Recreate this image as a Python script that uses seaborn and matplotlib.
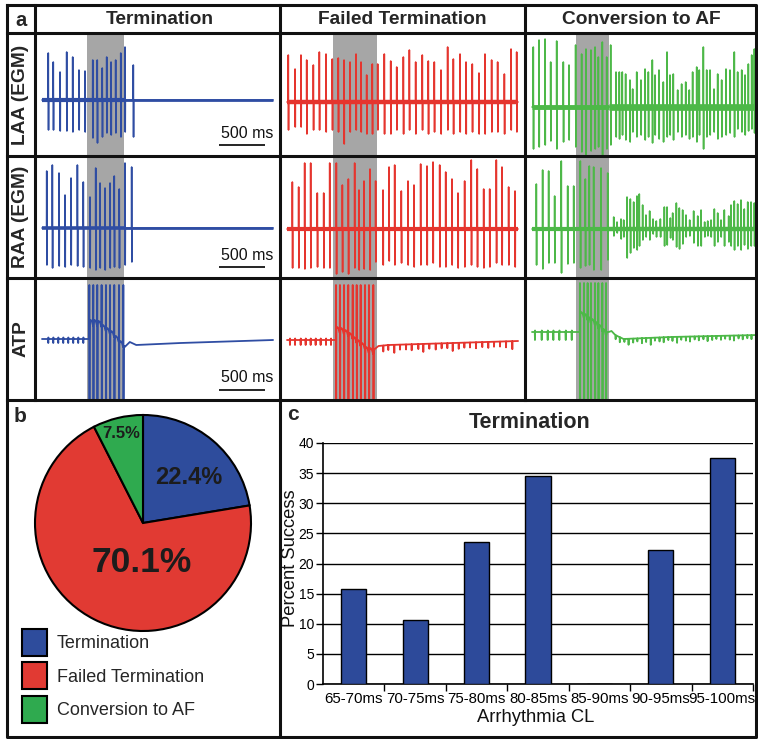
import numpy as np
import matplotlib
matplotlib.use("Agg")
import matplotlib.pyplot as plt
from matplotlib.patches import Patch
import seaborn as sns
import pandas as pd

# ---------------------------------------------------------------- data
col_titles = ["Termination", "Failed Termination", "Conversion to AF"]
row_titles = ["LAA (EGM)", "RAA (EGM)", "ATP"]

# stimulation (ATP) windows per column, ms
stim_start = [487, 498, 476]
stim_end = [887, 974, 833]

# LAA / RAA electrograms: spike times (ms), up / down deflections (a.u.)
laa_term_t = [68, 122, 195, 267, 332, 400, 465, 549, 598, 652, 700, 747, 797, 852, 898, 988]
laa_term_up = [47, 38, 28, 48, 43, 30, 29, 40, 40, 32, 43, 38, 40, 47, 53, 35]
laa_term_dn = [30, 30, 31, 31, 32, 30, 32, 38, 43, 37, 33, 35, 33, 37, 32, 37]

raa_term_t = [51, 112, 184, 249, 314, 383, 447, 519, 581, 628, 682, 736, 782, 836, 898, 970]
raa_term_up = [57, 63, 55, 33, 50, 63, 46, 31, 60, 45, 40, 45, 52, 39, 65, 61]
raa_term_dn = [37, 40, 38, 39, 37, 38, 39, 40, 42, 40, 42, 40, 39, 40, 37, 34]

laa_fail_t = [14, 87, 151, 213, 285, 350, 422, 490, 555, 617, 682, 747, 801, 862, 923, 981,
              1053, 1122, 1187, 1259, 1324, 1392, 1464, 1529, 1594, 1666, 1738, 1800, 1872,
              1937, 2005, 2077, 2142, 2214, 2279, 2352, 2424, 2485]
laa_fail_up = [47, 33, 47, 42, 37, 50, 48, 43, 44, 42, 40, 48, 40, 27, 38, 38, 48, 41, 35, 45,
               52, 40, 47, 41, 40, 32, 55, 43, 48, 40, 38, 29, 48, 42, 40, 28, 53, 50]
laa_fail_dn = [28, 25, 25, 32, 28, 28, 30, 28, 30, 42, 30, 28, 30, 32, 32, 28, 32, 32, 28, 32,
               28, 32, 28, 32, 30, 32, 28, 32, 30, 32, 30, 32, 32, 30, 30, 32, 28, 30]

raa_fail_t = [58, 126, 191, 256, 328, 397, 462, 534, 599, 664, 732, 779, 833, 898, 959, 1039,
              1104, 1165, 1237, 1309, 1374, 1446, 1515, 1580, 1652, 1717, 1785, 1850, 1922,
              1994, 2059, 2128, 2193, 2265, 2326, 2398, 2467]
raa_fail_up = [47, 42, 66, 66, 36, 36, 66, 66, 44, 50, 66, 39, 48, 60, 48, 39, 62, 64, 38, 48,
               44, 65, 63, 67, 64, 57, 50, 36, 48, 69, 60, 40, 40, 69, 62, 42, 38]
raa_fail_dn = [39, 39, 40, 39, 38, 39, 39, 45, 43, 45, 39, 41, 40, 41, 33, 36, 32, 36, 34, 36,
               38, 36, 36, 34, 38, 38, 36, 39, 38, 36, 38, 39, 38, 34, 36, 36, 38]

laa_af_t = [14, 76, 141, 202, 267, 339, 400, 472, 537, 584, 638, 682, 718, 761, 808, 851,
            909, 945, 977, 1013, 1060, 1089, 1133, 1179, 1223, 1259, 1302, 1331, 1374, 1421,
            1461, 1493, 1529, 1576, 1619, 1663, 1702, 1738, 1782, 1810, 1854, 1890, 1926,
            1969, 2009, 2052, 2099, 2142, 2189, 2225, 2269, 2305, 2341, 2377, 2406, 2442]
laa_af_up = [60, 67, 68, 45, 66, 45, 42, 62, 53, 58, 57, 60, 50, 65, 50, 62,
             35, 35, 35, 33, 27, 18, 35, 27, 38, 35, 47, 32, 37, 25, 55, 32, 33, 17, 23, 25,
             17, 35, 40, 37, 60, 37, 37, 18, 33, 27, 38, 37, 55, 35, 37, 32, 43, 52, 58, 40]
laa_af_dn = [42, 40, 38, 34, 42, 35, 33, 40, 45, 48, 44, 42, 40, 48, 42, 38,
             30, 32, 28, 33, 35, 25, 30, 28, 33, 30, 36, 28, 32, 35, 30, 28, 33, 25, 30, 28,
             32, 30, 35, 28, 42, 30, 28, 25, 32, 30, 28, 26, 30, 22, 25, 28, 24, 22, 26, 25]

raa_af_t = [47, 115, 180, 245, 317, 386, 451, 523, 577, 620, 667, 747, 819,
            884, 920, 963, 992, 1028, 1064, 1100, 1136, 1161, 1197, 1233, 1273, 1309, 1345,
            1389, 1432, 1461, 1497, 1522, 1562, 1594, 1630, 1666, 1706, 1749, 1793, 1829,
            1868, 1901, 1937, 1973, 2009, 2045, 2081, 2128, 2153, 2189, 2225, 2261, 2297,
            2334, 2370, 2406, 2442]
raa_af_up = [45, 59, 58, 33, 68, 43, 43, 68, 50, 63, 62, 61, 56,
             12, 7, 10, 9, 32, 30, 27, 33, 35, 24, 14, 18, 10, 8, 10, 22, 22, 11, 16, 26,
             21, 19, 14, 9, 18, 13, 19, 7, 8, 9, 20, 16, 9, 19, 13, 24, 28, 25, 29, 20,
             27, 27, 26, 24]
raa_af_dn = [36, 40, 34, 34, 44, 35, 34, 39, 37, 36, 41, 41, 31,
             7, 4, 10, 8, 29, 24, 19, 21, 17, 11, 8, 11, 5, 8, 8, 17, 16, 9, 11, 18,
             20, 15, 8, 7, 14, 17, 17, 8, 7, 8, 17, 13, 8, 17, 13, 17, 21, 17, 21, 16,
             20, 17, 17, 20]

# ATP channel: pre-stim sensed ticks, pacing pulses, hump levels, post-stim course
atp_term_pre = [68, 122, 176, 230, 284, 338, 392, 447]
atp_term_pulse = [512, 555, 598, 645, 692, 736, 782, 833, 880]
atp_term_hump = [19, 19, 18, 14, 11, 8, 3, -2, -7]
atp_term_post_t = [895, 950, 1020, 1500, 2500]
atp_term_post_v = [-8, -3, -6, -4, -1]
atp_term_post_ticks = []
atp_term_post_depth = []

atp_fail_pre = [32, 87, 148, 202, 256, 310, 364, 422, 476]
atp_fail_pulse = [530, 573, 617, 663, 711, 754, 797, 844, 887, 934]
atp_fail_hump = [13, 12, 10, 7, 3, 0, -3, -7, -8, -10]
atp_fail_post_t = [950, 990, 1100, 2500]
atp_fail_post_v = [-9, -6, -5, -1]
atp_fail_post_ticks = [1042, 1096, 1161, 1223, 1288, 1349, 1421, 1475, 1540, 1609, 1673, 1735,
                       1793, 1858, 1919, 1980, 2045, 2113, 2178, 2240, 2305, 2370, 2438]
atp_fail_post_depth = [6, 5, 8, 5, 5, 6, 5, 8, 5, 6, 5, 5, 8, 6, 5, 5, 6, 5, 6, 5, 5, 6, 8]

atp_af_pre = [32, 105, 170, 231, 296, 365, 430]
atp_af_pulse = [519, 563, 602, 638, 682, 718, 761, 801]
atp_af_hump = [20, 18, 15, 13, 10, 7, 3, 0]
atp_af_post_t = [830, 860, 900, 990, 1500, 2445]
atp_af_post_v = [0, 1, -3, -7, -5, -3]
atp_af_post_ticks = [905, 950, 1000, 1045, 1095, 1140, 1190, 1235, 1285, 1330, 1380, 1425,
                     1475, 1520, 1570, 1615, 1665, 1710, 1760, 1805, 1855, 1900, 1950, 1995,
                     2045, 2090, 2140, 2185, 2235, 2280, 2330, 2375, 2425]
atp_af_post_depth = [4, 5, 3, 6, 4, 3, 5, 4, 7, 3, 4, 5, 3, 4, 6, 3, 4, 5, 3, 4, 3, 5, 4, 3,
                     4, 3, 4, 5, 3, 4, 3, 4, 3]

# panel b
outcome_labels = ["Termination", "Failed Termination", "Conversion to AF"]
outcome_pct = [22.4, 70.1, 7.5]

# panel c
cl_bins = ["65-70ms", "70-75ms", "75-80ms", "80-85ms", "85-90ms", "90-95ms", "95-100ms"]
success_pct = [15.8, 10.6, 23.5, 34.5, 0.0, 22.2, 37.5]

# ---------------------------------------------------------------- style
sns.set_theme(style="white")
plt.rcParams["font.family"] = ["Liberation Sans", "DejaVu Sans"]

TRACE_COLORS = ["#2F4DA3", "#E5352E", "#4DB848"]
PIE_COLORS = ["#2E4C9C", "#E13A33", "#2FAA4F"]
BAR_COLOR = "#2D4A9A"
GRAY = "#A6A6A6"

W, H = 758, 739
fig = plt.figure(figsize=(W / 100, H / 100), dpi=100)


def px_axes(x0, y0, x1, y1, **kw):
    return fig.add_axes([x0 / W, 1 - y1 / H, (x1 - x0) / W, (y1 - y0) / H], **kw)


COLS = [(35, 280, 42), (280, 525, 287), (525, 758, 532)]
ROWS = [(33, 156), (156, 278), (278, 400)]
BASE = [[100, 102, 107], [228, 229, 229], [339, 340, 332]]
MPP = 10.82
T_END = [2500, 2500, 2445]


def trace_ax(r, c):
    x0, x1, xs = COLS[c]
    y0, y1 = ROWS[r]
    b = BASE[r][c]
    ax = px_axes(x0, y0, x1, y1)
    ax.set_xlim((x0 - xs) * MPP, (x1 - xs) * MPP)
    ax.set_ylim(-(y1 - b), b - y0)
    ax.axis("off")
    ax.axvspan(stim_start[c], stim_end[c], color=GRAY, lw=0, zorder=0)
    return ax


def egm_xy(times, ups, downs, t_end):
    xs, ys = [0.0], [0.0]
    for t, u, d in zip(times, ups, downs):
        xs += [t - 1.5, t, t + 2.5, t + 4]
        ys += [0, u, -d, 0]
    xs.append(t_end)
    ys.append(0)
    return xs, ys


def atp_xy(pre, pulses, humps, post_t, post_v, post_ticks, post_depth,
           up, down, pre_depth, t_end):
    xs, ys = [0.0], [0.0]
    for t in pre:
        xs += [t - 2, t, t + 1, t + 3]
        ys += [0, -pre_depth, 1.5, 0]
    xs.append(pulses[0] - 2)
    ys.append(0)
    for i, p in enumerate(pulses):
        hv = humps[i]
        xs += [p, p + 2, p + 4]
        ys += [up, -down, hv - 4]
        if i + 1 < len(pulses):
            nxt = pulses[i + 1]
            xs += [p + 0.15 * (nxt - p), p + 0.35 * (nxt - p), p + 0.7 * (nxt - p), nxt - 2]
            ys += [hv - 1, hv, hv - 2, hv - 6]
        else:
            xs.append(p + 10)
            ys.append(hv)
    # post-stim course with ticks
    pts = sorted(list(zip(post_t, post_v)) +
                 [(t, None) for t in post_ticks], key=lambda q: q[0])
    tick_map = dict(zip(post_ticks, post_depth))
    for t, v in pts:
        lvl = float(np.interp(t, post_t, post_v))
        if v is None:
            xs += [t - 2, t, t + 2]
            ys += [lvl, lvl - tick_map[t], lvl]
        else:
            xs.append(t)
            ys.append(v)
    xs.append(t_end)
    ys.append(float(np.interp(t_end, post_t, post_v)))
    return xs, ys


egm_sets = [
    [(laa_term_t, laa_term_up, laa_term_dn), (laa_fail_t, laa_fail_up, laa_fail_dn),
     (laa_af_t, laa_af_up, laa_af_dn)],
    [(raa_term_t, raa_term_up, raa_term_dn), (raa_fail_t, raa_fail_up, raa_fail_dn),
     (raa_af_t, raa_af_up, raa_af_dn)],
]
# baseline noise band widths (pt) before / after stimulation
band_lw = [[(3.0, 2.0), (3.2, 3.2), (3.5, 4.8)],
           [(2.6, 2.0), (3.0, 3.0), (3.0, 3.2)]]

for r in range(2):
    for c in range(3):
        ax = trace_ax(r, c)
        t, u, d = egm_sets[r][c]
        col = TRACE_COLORS[c]
        lw_pre, lw_post = band_lw[r][c]
        ax.plot([0, stim_end[c]], [0, 0], color=col, lw=lw_pre, solid_capstyle="butt", zorder=2)
        ax.plot([stim_end[c], T_END[c]], [0, 0], color=col, lw=lw_post, solid_capstyle="butt", zorder=2)
        xs, ys = egm_xy(t, u, d, T_END[c])
        ax.plot(xs, ys, color=col, lw=1.15, zorder=3)

atp_sets = [
    (atp_term_pre, atp_term_pulse, atp_term_hump, atp_term_post_t, atp_term_post_v,
     atp_term_post_ticks, atp_term_post_depth, 54, 62, 4),
    (atp_fail_pre, atp_fail_pulse, atp_fail_hump, atp_fail_post_t, atp_fail_post_v,
     atp_fail_post_ticks, atp_fail_post_depth, 55, 62, 5),
    (atp_af_pre, atp_af_pulse, atp_af_hump, atp_af_post_t, atp_af_post_v,
     atp_af_post_ticks, atp_af_post_depth, 49, 70, 8),
]
for c in range(3):
    ax = trace_ax(2, c)
    xs, ys = atp_xy(*atp_sets[c], T_END[c])
    ax.plot(xs, ys, color=TRACE_COLORS[c], lw=1.3, zorder=3)

# scale bars (column 1)
for r in range(3):
    ax = fig.axes[r * 3]
    b = BASE[r][0]
    bar_y = [145, 267, 390][r] - b
    txt_y = [133, 255, 378][r] - b
    ax.plot([1913, 2413], [-bar_y, -bar_y], color="black", lw=1.2, solid_capstyle="butt")
    ax.text(2218, -txt_y, "500 ms", ha="center", va="center", fontsize=11.5, color="#111111")

# ---------------------------------------------------------------- panel b (pie)
cx, cy, R = 143, 523, 108
half = 120
ax_pie = px_axes(cx - half, cy - half, cx + half, cy + half)
ax_pie.patch.set_alpha(0)
wedges, _ = ax_pie.pie(outcome_pct, colors=PIE_COLORS, startangle=90, counterclock=False,
                       wedgeprops=dict(edgecolor="black", linewidth=1.5))
for w in wedges:
    w.set_clip_on(False)
lim = half / R
ax_pie.set_xlim(-lim, lim)
ax_pie.set_ylim(-lim, lim)
ax_pie.set_aspect("equal")
label_pos = [(0.42, 0.42), (-0.01, -0.37), (-0.20, 0.83)]
label_fs = [17, 25.5, 12]
for v, (lx, ly), fs in zip(outcome_pct, label_pos, label_fs):
    ax_pie.text(lx, ly, f"{v}%", ha="center", va="center", fontsize=fs,
                fontweight="bold", color="#1c1c1c")

handles = [Patch(facecolor=col, edgecolor="black", linewidth=1.5) for col in PIE_COLORS]
ax_pie.legend(handles, outcome_labels, loc="upper left",
              bbox_to_anchor=(22 / W, 1 - 629 / H), bbox_transform=fig.transFigure,
              frameon=False, fontsize=13, handlelength=1.38, handleheight=1.92,
              labelspacing=0.36, handletextpad=0.55, borderpad=0, borderaxespad=0)

# ---------------------------------------------------------------- panel c (bars)
axc = px_axes(323, 443, 753, 684)
df = pd.DataFrame({"cl": cl_bins, "pct": success_pct})
sns.barplot(data=df, x="cl", y="pct", color=BAR_COLOR, saturation=1, edgecolor="black",
            linewidth=1.0, width=0.41, ax=axc, zorder=3)
axc.set_xlim(-0.5, len(cl_bins) - 0.5)
axc.set_ylim(0, 40)
axc.set_yticks(range(0, 41, 5))
axc.yaxis.grid(True, color="black", lw=1.0)
axc.xaxis.grid(False)
axc.set_axisbelow(True)
for s in ["top", "right"]:
    axc.spines[s].set_visible(False)
for s in ["left", "bottom"]:
    axc.spines[s].set_color("black")
    axc.spines[s].set_linewidth(1.2)
axc.tick_params(axis="y", which="major", direction="out", length=5, width=1, pad=1.5,
                labelsize=10, colors="black", left=True)
axc.tick_params(axis="x", which="major", length=0, pad=6, labelsize=10.8, colors="black")
axc.set_xticks(np.arange(0.5, len(cl_bins)), minor=True)
axc.tick_params(axis="x", which="minor", direction="out", length=5, width=1, bottom=True,
                colors="black")
axc.set_ylabel("Percent Success", fontsize=13.2, color="#111111")
axc.set_xlabel("Arrhythmia CL", fontsize=13.2, color="#111111")
axc.yaxis.set_label_coords(-0.055, 0.523)
axc.xaxis.set_label_coords(0.495, -0.104)
axc.set_facecolor("none")

# ---------------------------------------------------------------- frame and headings
axf = fig.add_axes([0, 0, 1, 1], zorder=10)
axf.set_xlim(0, W)
axf.set_ylim(H, 0)
axf.axis("off")
axf.patch.set_alpha(0)
LW = 2.2
kw = dict(color="#111111", lw=LW, solid_capstyle="projecting")
axf.plot([7, 756, 756, 7, 7], [5, 5, 737, 737, 5], **kw)
for y in [33, 156, 278, 400]:
    axf.plot([7, 756], [y, y], **kw)
axf.plot([35, 35], [5, 400], **kw)
axf.plot([280, 280], [5, 737], **kw)
axf.plot([525, 525], [5, 400], **kw)

axf.text(21, 20, "a", ha="center", va="center", fontsize=14.5, fontweight="bold")
for c, title in enumerate(col_titles):
    xc = (COLS[c][0] + COLS[c][1]) / 2 + (2 if c == 0 else 0)
    axf.text(xc, 20, title, ha="center", va="center", fontsize=13.8, fontweight="bold")
for r, lab in enumerate(row_titles):
    yc = (ROWS[r][0] + ROWS[r][1]) / 2
    axf.text(21, yc, lab, ha="center", va="center", rotation=90, fontsize=13.8,
             fontweight="bold")
axf.text(20, 417, "b", ha="center", va="center", fontsize=15, fontweight="bold")
axf.text(293, 414, "c", ha="center", va="center", fontsize=15, fontweight="bold")
axf.text(530, 422, "Termination", ha="center", va="center", fontsize=15.5, fontweight="bold")

fig.savefig("out.png", dpi=100)
